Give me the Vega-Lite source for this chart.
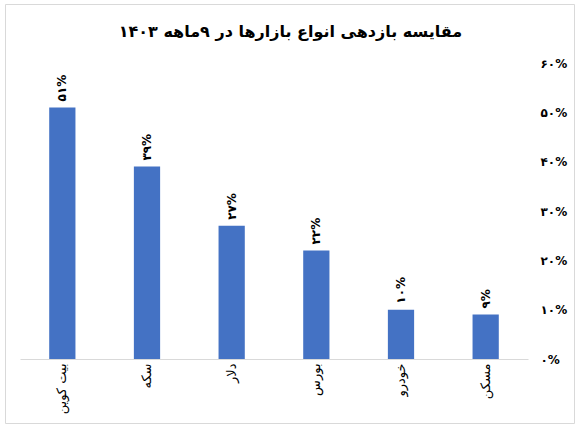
{
  "$schema": "https://vega.github.io/schema/vega-lite/v6.json",
  "autosize": "none",
  "width": 569,
  "height": 419,
  "padding": {"left": 5, "top": 4, "right": 7, "bottom": 7},
  "title": {
    "text": "مقایسه بازدهی انواع بازارها در ۹ماهه ۱۴۰۳",
    "font": "DejaVu Sans",
    "fontSize": 16,
    "fontWeight": "bold",
    "color": "#000000",
    "anchor": "middle",
    "offset": -36,
    "dx": 1
  },
  "config": {
    "view": {"stroke": "#d9d9d9", "strokeWidth": 1},
    "font": "DejaVu Sans"
  },
  "data": {
    "values": [
      {"market": "بیت کوین", "value": 0.51, "label": "۵۱%"},
      {"market": "سکه", "value": 0.39, "label": "۳۹%"},
      {"market": "دلار", "value": 0.27, "label": "۲۷%"},
      {"market": "بورس", "value": 0.22, "label": "۲۲%"},
      {"market": "خودرو", "value": 0.10, "label": "۱۰%"},
      {"market": "مسکن", "value": 0.09, "label": "۹%"}
    ]
  },
  "encoding": {
    "x": {
      "field": "market",
      "type": "nominal",
      "sort": null,
      "scale": {"range": [15, 523], "paddingInner": 0.69, "paddingOuter": 0.345},
      "axis": {
        "title": null,
        "offset": -64,
        "labelAngle": -90,
        "labelFontSize": 13,
        "labelFont": "DejaVu Sans",
        "labelColor": "#000000",
        "labelPadding": 4,
        "ticks": false,
        "domainColor": "#d9d9d9",
        "domainWidth": 1
      }
    },
    "y": {
      "field": "value",
      "type": "quantitative",
      "scale": {"domain": [0, 0.6], "range": [355, 59]},
      "axis": {
        "orient": "right",
        "title": null,
        "offset": -36,
        "values": [0, 0.1, 0.2, 0.3, 0.4, 0.5, 0.6],
        "labelExpr": "replace(replace(replace(replace(replace(replace(replace(format(datum.value * 100, 'd'), '0', '۰'), '1', '۱'), '2', '۲'), '3', '۳'), '4', '۴'), '5', '۵'), '6', '۶') + '%'",
        "labelFontSize": 12,
        "labelFontWeight": "bold",
        "labelColor": "#000000",
        "labelPadding": 2,
        "domain": false,
        "ticks": false,
        "grid": false
      }
    }
  },
  "layer": [
    {"mark": {"type": "bar", "color": "#4472C4"}},
    {
      "mark": {"type": "text", "angle": -90, "align": "left", "baseline": "middle", "dx": 6, "fontSize": 12, "fontWeight": "bold", "color": "#000000"},
      "encoding": {"text": {"field": "label"}}
    }
  ]
}
